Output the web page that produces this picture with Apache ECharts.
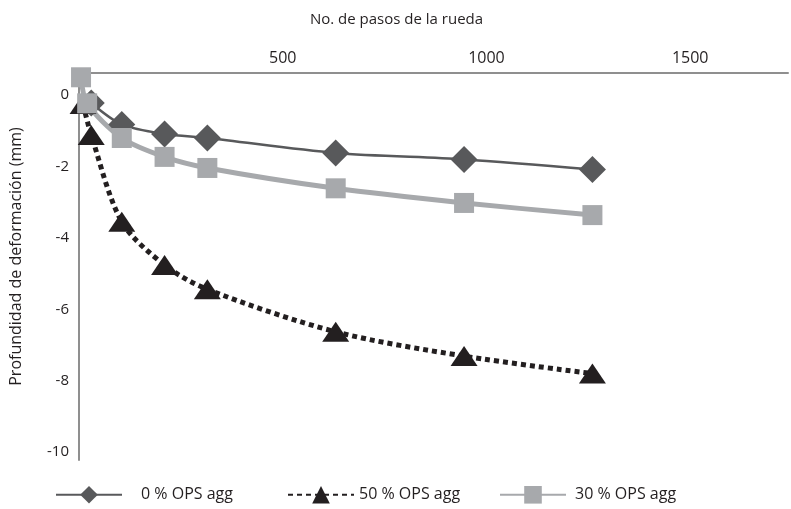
<!DOCTYPE html>
<html>
<head>
<meta charset="utf-8">
<script src="https://cdn.jsdelivr.net/npm/echarts@6/dist/echarts.min.js"></script>
<style>
html,body{margin:0;padding:0;background:#fff;}
#c{width:791px;height:509px;}
</style>
</head>
<body>
<div id="c"></div>
<script>
// ---- data ----
var seriesNames = ['0 % OPS agg', '50 % OPS agg', '30 % OPS agg'];
var passes0  = [30, 105, 210, 315, 630, 945, 1260];
var depth0   = [-0.22, -0.82, -1.09, -1.2, -1.62, -1.8, -2.08];
var passes50 = [10, 30, 105, 210, 315, 630, 945, 1260];
var depth50  = [-0.25, -1.12, -3.55, -4.76, -5.44, -6.63, -7.31, -7.8];
var passes30 = [5, 20, 105, 210, 315, 630, 945, 1260];
var depth30  = [0.5, -0.23, -1.2, -1.73, -2.04, -2.61, -3.02, -3.36];
var xTickLabels = [500, 1000, 1500];
var yTickLabels = [0, -2, -4, -6, -8, -10];

function pairs(xs, ys){ return xs.map(function(x,i){ return [x, ys[i]]; }); }

var FONT = 'Open Sans';
var TXT = '#231f20';
var chart = echarts.init(document.getElementById('c'), null, {renderer:'canvas'});

function legendAt(name, left, pad){
  return {
    data:[name], left:left, top:481, itemWidth:66, itemHeight:22,
    textStyle:{fontFamily:FONT, fontSize:16, color:TXT, padding:[0,0,0,pad]}
  };
}

chart.setOption({
  animation:false,
  backgroundColor:'#fff',
  grid:{left:74, top:73, right:1, bottom:49, containLabel:false},
  legend:[
    legendAt(seriesNames[0], 50, 14),
    legendAt(seriesNames[1], 282, 0),
    legendAt(seriesNames[2], 494, 4)
  ],
  xAxis:{
    type:'value', position:'top', min:0, max:1740, interval:500,
    name:'No. de pasos de la rueda', nameLocation:'middle', nameGap:46,
    nameTextStyle:{fontFamily:FONT, fontSize:15, color:TXT, padding:[0,74,0,0]},
    axisLine:{show:true, onZero:false, lineStyle:{color:'#8f8f8f', width:2}},
    axisTick:{show:false},
    splitLine:{show:false},
    axisLabel:{fontFamily:FONT, fontSize:16, color:TXT, margin:7,
      formatter:function(v){ return xTickLabels.indexOf(v) >= 0 ? String(v) : ''; }}
  },
  yAxis:{
    type:'value', min:-10.22, max:0.62, splitNumber:5,
    name:'Profundidad de deformación (mm)', nameLocation:'middle', nameGap:55, nameRotate:90,
    nameTextStyle:{fontFamily:FONT, fontSize:16, color:TXT, padding:[0,0,0,20]},
    axisLine:{show:true, onZero:false, lineStyle:{color:'#8f8f8f', width:2}},
    axisTick:{show:false},
    splitLine:{show:false},
    axisLabel:{fontFamily:FONT, fontSize:15, color:TXT, margin:10,
      formatter:function(v){
        var r = Math.round(v);
        if (Math.abs(v - r) > 1e-6) return '';
        return yTickLabels.indexOf(r) >= 0 ? String(r) : '';
      }}
  },
  series:[
    {
      name:seriesNames[0], type:'line', data:pairs(passes0, depth0), smooth:0.3, clip:false,
      symbol:'diamond', symbolSize:27, showAllSymbol:true,
      itemStyle:{color:'#58595b'},
      lineStyle:{color:'#58595b', width:2.5}
    },
    {
      name:seriesNames[1], type:'line', data:pairs(passes50, depth50), smooth:0.3, clip:false,
      symbol:'triangle', symbolSize:[27,20], showAllSymbol:true,
      itemStyle:{color:'#231f20'},
      lineStyle:{color:'#231f20', width:5, type:[5,4], cap:'butt'}
    },
    {
      name:seriesNames[2], type:'line', data:pairs(passes30, depth30), smooth:0.3, clip:false,
      symbol:'rect', symbolSize:20, showAllSymbol:true,
      itemStyle:{color:'#a7a9ac'},
      lineStyle:{color:'#a7a9ac', width:5}
    }
  ]
});
</script>
</body>
</html>
